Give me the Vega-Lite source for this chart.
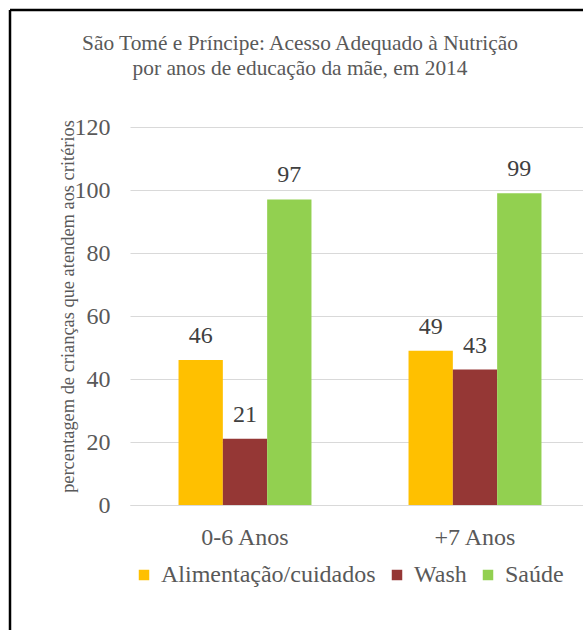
{
  "$schema": "https://vega.github.io/schema/vega-lite/v6.json",
  "autosize": {"type": "none"},
  "padding": {"left": 10, "top": 10, "right": 0, "bottom": 0},
  "width": 573,
  "height": 620,
  "background": "white",
  "title": {
    "text": ["São Tomé e Príncipe: Acesso Adequado à Nutrição", "por anos de educação da mãe, em 2014"],
    "anchor": "middle",
    "frame": "group",
    "font": "Liberation Serif",
    "fontSize": 21.4,
    "fontWeight": "normal",
    "color": "#595959",
    "lineHeight": 25,
    "dx": 3.5,
    "dy": 73
  },
  "data": {
    "values": [
      {"grupo": "0-6 Anos", "categoria": "Alimentação/cuidados", "valor": 46},
      {"grupo": "0-6 Anos", "categoria": "Wash", "valor": 21},
      {"grupo": "0-6 Anos", "categoria": "Saúde", "valor": 97},
      {"grupo": "+7 Anos", "categoria": "Alimentação/cuidados", "valor": 49},
      {"grupo": "+7 Anos", "categoria": "Wash", "valor": 43},
      {"grupo": "+7 Anos", "categoria": "Saúde", "valor": 99}
    ]
  },
  "encoding": {
    "x": {
      "field": "grupo",
      "type": "nominal",
      "sort": ["0-6 Anos", "+7 Anos"],
      "scale": {"range": [120, 580], "paddingInner": 0.422, "paddingOuter": 0.211},
      "axis": {
        "orient": "bottom",
        "offset": -125,
        "title": null,
        "labelAngle": 0,
        "domain": true,
        "domainColor": "#d9d9d9",
        "domainWidth": 1,
        "ticks": false,
        "tickSize": 0,
        "grid": false,
        "labelPadding": 20,
        "labelFont": "Liberation Serif",
        "labelFontSize": 24,
        "labelColor": "#595959"
      }
    },
    "xOffset": {
      "field": "categoria",
      "type": "nominal",
      "sort": ["Alimentação/cuidados", "Wash", "Saúde"],
      "scale": {"paddingInner": 0, "paddingOuter": 0}
    },
    "y": {
      "field": "valor",
      "type": "quantitative",
      "scale": {"domain": [0, 120], "range": [495, 117], "nice": false},
      "axis": {
        "values": [0, 20, 40, 60, 80, 100, 120],
        "offset": -100,
        "domain": false,
        "ticks": false,
        "tickSize": 0,
        "labelPadding": 0,
        "grid": true,
        "gridColor": "#d9d9d9",
        "gridWidth": 1,
        "labelFont": "Liberation Serif",
        "labelFontSize": 24,
        "labelColor": "#595959",
        "title": "percentagem de crianças que atendem aos critérios",
        "titleFont": "Liberation Serif",
        "titleFontSize": 18.4,
        "titleFontWeight": "normal",
        "titleColor": "#595959",
        "titleAngle": -90,
        "titleAlign": "center",
        "titleBaseline": "middle",
        "titleX": -43,
        "titleY": 296
      }
    }
  },
  "layer": [
    {
      "mark": {"type": "bar"},
      "encoding": {
        "color": {
          "field": "categoria",
          "type": "nominal",
          "sort": ["Alimentação/cuidados", "Wash", "Saúde"],
          "scale": {"domain": ["Alimentação/cuidados", "Wash", "Saúde"], "range": ["#FFC000", "#953735", "#92D050"]},
          "legend": {
            "orient": "none",
            "legendX": 122,
            "legendY": 553,
            "direction": "horizontal",
            "title": null,
            "symbolType": "square",
            "symbolSize": 110,
            "symbolStrokeWidth": 0,
            "labelFont": "Liberation Serif",
            "labelFontSize": 24,
            "labelColor": "#595959",
            "labelLimit": 0,
            "columnPadding": 9,
            "labelOffset": 5,
            "padding": 0
          }
        }
      }
    },
    {
      "mark": {"type": "text", "baseline": "alphabetic", "dy": -17, "font": "Liberation Serif", "fontSize": 24, "color": "#404040"},
      "encoding": {"text": {"field": "valor", "type": "quantitative"}}
    }
  ],
  "config": {
    "font": "Liberation Serif",
    "view": {"stroke": "black", "strokeWidth": 2.5, "strokeDash": [573, 1193, 620, 0]}
  }
}
